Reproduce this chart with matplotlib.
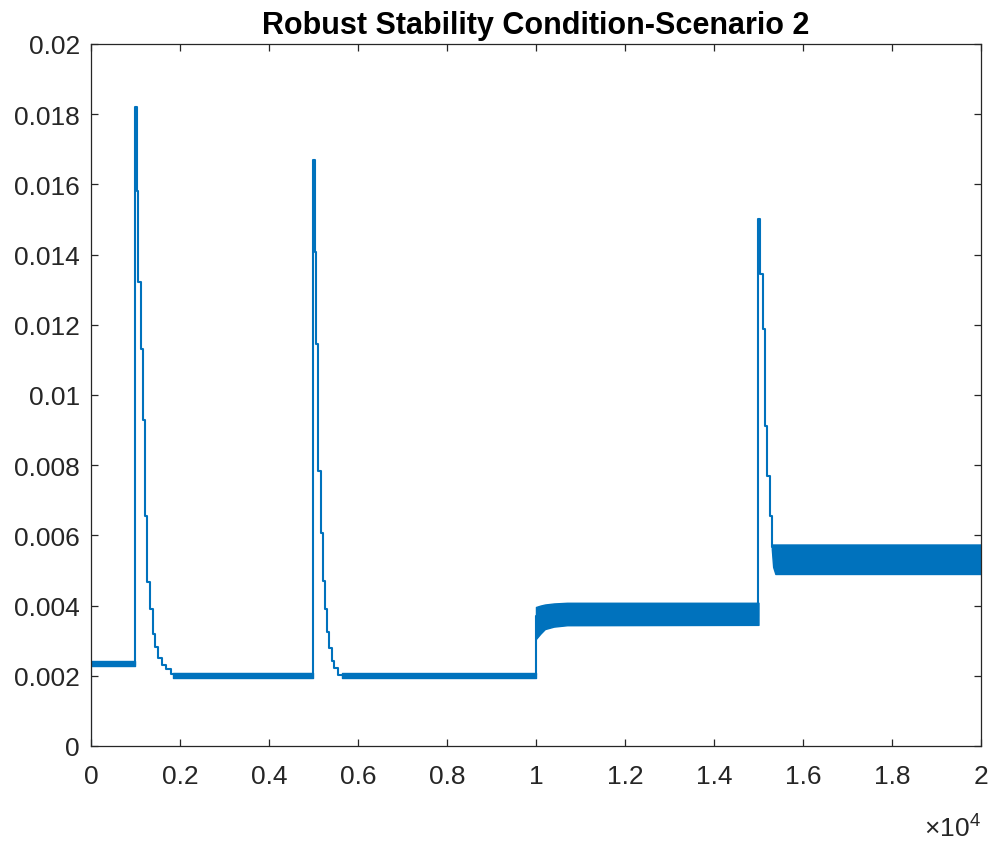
import numpy as np
import matplotlib.pyplot as plt
from matplotlib.ticker import FuncFormatter

# Step 1: values
# staircase trace: breakpoint (x) and the value held from it (where='post')
step_x = [0, 0, 1000, 1030, 1065, 1115, 1165, 1215, 1270, 1325, 1385, 1445,
          1510, 1590, 1680, 1790, 5000, 5025, 5048, 5100, 5168, 5210, 5255,
          5305, 5360, 5410, 5470, 5555, 10000, 15000, 15030, 15109, 15153,
          15198, 15258, 15296, 20000]
step_y = [0, 0.00232, 0.0182, 0.0158, 0.01322, 0.01132, 0.00929, 0.00656,
          0.00466, 0.0039, 0.0032, 0.00282, 0.0025, 0.00231, 0.00218, 0.00206,
          0.01668, 0.01407, 0.01146, 0.00782, 0.00606, 0.00469, 0.00391,
          0.00326, 0.0028, 0.00241, 0.00222, 0.00202, 0.0037, 0.0150, 0.01345,
          0.01188, 0.00913, 0.0077, 0.00656, 0.00566, 0.00566]

# oscillation bands (lower / upper envelope)
band_a_x = [0, 1000]
band_a_lo = [0.00228, 0.00228]
band_a_hi = [0.00242, 0.00242]

band_b1_x = [1850, 5000]
band_b1_lo = [0.00193, 0.00193]
band_b1_hi = [0.00209, 0.00209]

band_b2_x = [5640, 10000]
band_b2_lo = [0.00193, 0.00193]
band_b2_hi = [0.00209, 0.00209]

band_c_x = [10000, 10100, 10200, 10400, 10700, 15000]
band_c_lo = [0.00305, 0.0032, 0.00333, 0.0034, 0.00344, 0.00345]
band_c_hi = [0.00396, 0.004, 0.00403, 0.00406, 0.00408, 0.00408]

band_d_x = [15300, 15330, 15380, 20000]
band_d_lo = [0.0056, 0.0051, 0.0049, 0.0049]
band_d_hi = [0.00574, 0.00574, 0.00574, 0.00574]

x_ticks = [0, 2000, 4000, 6000, 8000, 10000, 12000, 14000, 16000, 18000, 20000]
y_ticks = [0, 0.002, 0.004, 0.006, 0.008, 0.01, 0.012, 0.014, 0.016, 0.018, 0.02]

# Step 2: styling (MATLAB look)
line_color = '#0072BD'
axis_color = '#262626'
plt.rcParams['font.family'] = ['Liberation Sans', 'DejaVu Sans']
plt.rcParams['mathtext.fontset'] = 'custom'
plt.rcParams['mathtext.rm'] = 'Liberation Sans'

fig = plt.figure(figsize=(9.94, 8.45), dpi=100)
ax = fig.add_axes([0.0915, 0.116, 0.8954, 0.8308])

# Step 3: draw
ax.step(step_x, step_y, where='post', color=line_color, lw=1.5)
for bx, lo, hi in [(band_a_x, band_a_lo, band_a_hi),
                   (band_b1_x, band_b1_lo, band_b1_hi),
                   (band_b2_x, band_b2_lo, band_b2_hi),
                   (band_c_x, band_c_lo, band_c_hi),
                   (band_d_x, band_d_lo, band_d_hi)]:
    ax.fill_between(bx, lo, hi, color=line_color, lw=1.0, edgecolor=line_color)

ax.set_xlim(0, 20000)
ax.set_ylim(0, 0.02)
ax.set_xticks(x_ticks)
ax.set_yticks(y_ticks)
ax.xaxis.set_major_formatter(FuncFormatter(lambda v, p: '%g' % (v / 1e4)))
ax.yaxis.set_major_formatter(FuncFormatter(lambda v, p: '%g' % v))
ax.tick_params(direction='in', length=5, width=0.9, top=True, right=True,
               colors=axis_color, labelsize=19)
ax.tick_params(axis='x', pad=13)
ax.tick_params(axis='y', pad=8)
for s in ax.spines.values():
    s.set_color(axis_color)
    s.set_linewidth(0.9)

ax.set_title('Robust Stability Condition-Scenario 2', fontsize=22,
             fontweight='bold', color='black', pad=8)
ax.text(1.0, -0.095, r'$\times10^{4}$', transform=ax.transAxes, ha='right',
        va='top', fontsize=19, color=axis_color)

plt.savefig('out.png', dpi=100)
